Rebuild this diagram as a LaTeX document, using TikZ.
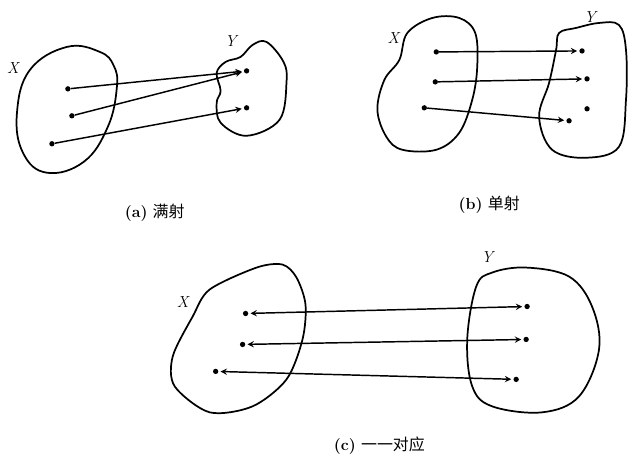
\documentclass[tikz,border=0pt]{standalone}
\usepackage{fontspec}
\usepackage{tikz}
\newfontfamily\cjk{Noto Sans CJK SC}
\usetikzlibrary{arrows}

\tikzset{
  blob/.style={line width=1.3pt, line join=round},
  dot/.style={circle, fill=black, inner sep=0pt, minimum size=4pt},
  mapto/.style={-stealth, line width=1.1pt, shorten >=1.5pt},
  mapboth/.style={stealth-stealth, line width=1.1pt, shorten >=1.5pt, shorten <=1.5pt},
  setname/.style={font=\large\itshape},
  caption/.style={font=\fontsize{12}{14}\selectfont}
}

\begin{document}
\begin{tikzpicture}[x=0.75pt,y=0.75pt,yscale=-1,xscale=1]
\path (0,0) rectangle (628,461);

%% (a) surjection
%Curve Lines X
\draw [blob] plot [smooth cycle, tension=0.7] coordinates {(67,47) (100,52) (114,66) (117,88) (108,127) (84,162) (47,173) (23,153) (17,113) (30,70)};
%Curve Lines Y
\draw [blob] plot [smooth cycle, tension=0.6] coordinates {(267,42) (284,62) (287,82) (280,120) (247,136) (221,123) (217,103) (221,91) (217,73) (226,62) (241,57) (253,45)};
% Text Node
\node [setname] (xa) at (13,68) {X};
\node [setname] (ya) at (231,41) {Y};
% dots
\node [dot] (a1) at (68,89) {};
\node [dot] (a2) at (72,116) {};
\node [dot] (a3) at (52,144) {};
\node [dot] (b1) at (247,71) {};
\node [dot] (b2) at (247,108) {};
% arrows
\draw [mapto] (a1) -- (b1);
\draw [mapto] (a2) -- (b1);
\draw [mapto] (a3) -- (b2);
% Text Node
\node [caption] (capa) at (155,213) {\textbf{(a)} {\cjk 满射}};

%% (b) injection
%Curve Lines X
\draw [blob] plot [smooth cycle, tension=0.6] coordinates {(433,18) (460,18) (476,33) (478,67) (473,100) (460,133) (437,150) (403,150) (387,137) (378,110) (385,80) (400,60) (408,33)};
%Curve Lines Y
\draw [blob] plot [smooth cycle, tension=0.6] coordinates {(577,28) (600,23) (620,25) (627,50) (627,100) (620,147) (587,158) (553,150) (540,117) (550,83) (557,50) (560,33)};
% Text Node
\node [setname] (xb) at (394,38) {X};
\node [setname] (yb) at (591,17) {Y};
% dots
\node [dot] (c1) at (437,52) {};
\node [dot] (c2) at (436,82) {};
\node [dot] (c3) at (425,108) {};
\node [dot] (d1) at (583,51) {};
\node [dot] (d2) at (588,79) {};
\node [dot] (d3) at (588,109) {};
\node [dot] (d4) at (570,121) {};
% arrows
\draw [mapto] (c1) -- (d1);
\draw [mapto] (c2) -- (d2);
\draw [mapto] (c3) -- (d4);
% Text Node
\node [caption] (capb) at (490,205) {\textbf{(b)} {\cjk 单射}};

%% (c) bijection
%Curve Lines X
\draw [blob] plot [smooth cycle, tension=0.5] coordinates {(283,265) (297,278) (306,305) (303,340) (287,380) (253,407) (210,413) (175,387) (173,357) (193,317) (210,290) (257,268)};
%Curve Lines Y
\draw [blob] plot [smooth cycle, tension=0.6] coordinates {(527,268) (570,277) (593,307) (600,350) (580,397) (543,413) (493,407) (473,387) (468,340) (477,287) (493,273)};
% Text Node
\node [setname] (xc) at (183,303) {X};
\node [setname] (yc) at (488,257) {Y};
% dots
\node [dot] (e1) at (246,314) {};
\node [dot] (e2) at (243,345) {};
\node [dot] (e3) at (216,372) {};
\node [dot] (f1) at (528,307) {};
\node [dot] (f2) at (527,340) {};
\node [dot] (f3) at (517,380) {};
% arrows
\draw [mapboth] (e1) -- (f1);
\draw [mapboth] (e2) -- (f2);
\draw [mapboth] (e3) -- (f3);
% Text Node
\node [caption] (capc) at (380,446) {\textbf{(c)} {\cjk 一一对应}};

\end{tikzpicture}
\end{document}
